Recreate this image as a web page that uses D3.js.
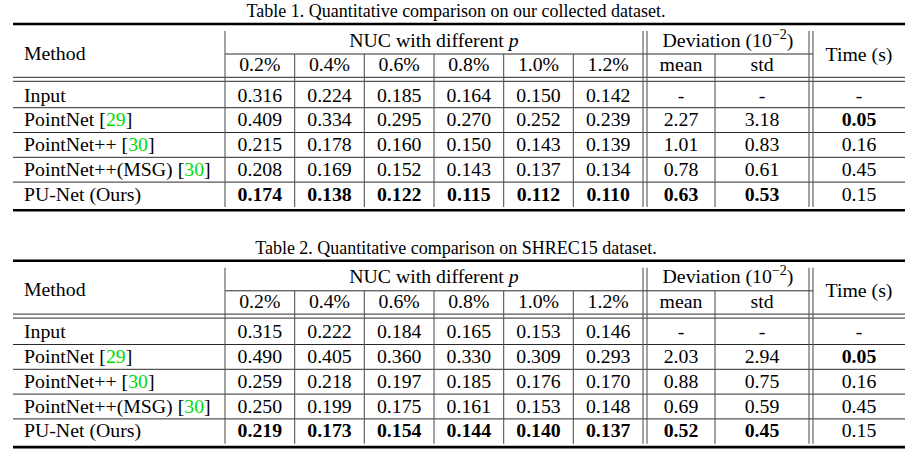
<!DOCTYPE html>
<html><head><meta charset="utf-8">
<script src="https://cdn.jsdelivr.net/npm/d3@7"></script>
<style>body{margin:0;background:#fff}svg{display:block}</style>
</head><body><svg id="c" width="916" height="455"></svg>
<script>
// ---------------- data ----------------
const captions = ["Table 1. Quantitative comparison on our collected dataset.",
                  "Table 2. Quantitative comparison on SHREC15 dataset."];
const methods = ["Input", "PointNet", "PointNet++", "PointNet++(MSG)", "PU-Net (Ours)"];
const citations = [null, "29", "30", "30", null];
const pLabels = ["0.2%", "0.4%", "0.6%", "0.8%", "1.0%", "1.2%"];
const devLabels = ["mean", "std"];
const nuc1 = [
  [0.316, 0.224, 0.185, 0.164, 0.150, 0.142],
  [0.409, 0.334, 0.295, 0.270, 0.252, 0.239],
  [0.215, 0.178, 0.160, 0.150, 0.143, 0.139],
  [0.208, 0.169, 0.152, 0.143, 0.137, 0.134],
  [0.174, 0.138, 0.122, 0.115, 0.112, 0.110]];
const mean1 = [null, 2.27, 1.01, 0.78, 0.63];
const std1  = [null, 3.18, 0.83, 0.61, 0.53];
const time1 = [null, 0.05, 0.16, 0.45, 0.15];
const nuc2 = [
  [0.315, 0.222, 0.184, 0.165, 0.153, 0.146],
  [0.490, 0.405, 0.360, 0.330, 0.309, 0.293],
  [0.259, 0.218, 0.197, 0.185, 0.176, 0.170],
  [0.250, 0.199, 0.175, 0.161, 0.153, 0.148],
  [0.219, 0.173, 0.154, 0.144, 0.140, 0.137]];
const mean2 = [null, 2.03, 0.88, 0.69, 0.52];
const std2  = [null, 2.94, 0.75, 0.59, 0.45];
const time2 = [null, 0.05, 0.16, 0.45, 0.15];

// ---------------- layout ----------------
const FONT = "'Liberation Serif','Times New Roman',Times,serif";
const BODY = 19.8, CAP = 18;
const X0 = 13, X1 = 905, XM = 225;
const xNuc = d3.scaleBand().domain(pLabels).range([225, 643]);
const devEdges = [647, 715, 809];
const xDev = d3.scaleOrdinal().domain(devLabels).range([(devEdges[0]+devEdges[1])/2, (devEdges[1]+devEdges[2])/2]);
const timeEdges = [813, X1];
const rowY = d3.scaleLinear().domain([0, 1]).range([0, 24.8]);
const tableOffsets = [0, 236.8];

const svg = d3.select("#c");

function fmt(v, d) { return v == null ? "-" : v.toFixed(d); }
function colMin(arr) { return d3.min(arr.filter(v => v != null)); }

function drawTable(k, nuc, mean, std, time) {
  const g = svg.append("g").attr("transform", `translate(0,${tableOffsets[k]})`);
  const txt = (x, y, s, opt = {}) => g.append("text").attr("x", x).attr("y", y)
      .attr("text-anchor", opt.anchor || "middle").style("font-family", FONT)
      .attr("font-size", opt.size || BODY).attr("font-weight", opt.bold ? "bold" : "normal")
      .attr("fill", "#000").text(s);
  const hline = (y, xa, xb, w, c) => g.append("line").attr("x1", xa).attr("x2", xb)
      .attr("y1", y).attr("y2", y).attr("stroke", c || "#2a2a2a").attr("stroke-width", w || 1);
  const vline = (x, ya, yb) => g.append("line").attr("x1", x).attr("x2", x)
      .attr("y1", ya).attr("y2", yb).attr("stroke", "#555").attr("stroke-width", 1.1);

  // caption
  txt(456, 17.3, captions[k], { size: CAP });

  // rules
  hline(24, X0, X1, 2.6, "#000");
  hline(54, XM, timeEdges[0], 1);
  hline(77.3, X0, X1, 1);
  hline(81.3, X0, X1, 1);
  for (let i = 0; i < methods.length - 1; i++) hline(107.7 + rowY(i), X0, X1, 1);
  hline(210.3, X0, X1, 2.6, "#000");

  // verticals
  const yTop = 31, ySub = 54, yBot = 207;
  [XM, 643, 647, 809, 813].forEach(x => vline(x, yTop, yBot));
  pLabels.slice(1).forEach(p => vline(xNuc(p), ySub, yBot));
  vline(devEdges[1], ySub, yBot);

  // header
  txt(24, 59.5, "Method", { anchor: "start" });
  const nh = txt(434, 46.7, "NUC with different ");
  nh.append("tspan").attr("font-style", "italic").text("p");
  pLabels.forEach(p => txt(xNuc(p) + xNuc.bandwidth() / 2, 71, p));
  const dh = txt((devEdges[0] + devEdges[2]) / 2, 46.7, "Deviation (10");
  dh.append("tspan").attr("font-size", 14).attr("dy", -8).text("\u22122");
  dh.append("tspan").attr("dy", 8).text(")");
  devLabels.forEach(d => txt(xDev(d), 71, d));
  txt((timeEdges[0] + timeEdges[1]) / 2, 60.5, "Time (s)");

  // body
  const nucMin = pLabels.map((p, j) => colMin(nuc.map(r => r[j])));
  const mMin = colMin(mean), sMin = colMin(std), tMin = colMin(time);
  methods.forEach((m, i) => {
    const y = 101.5 + rowY(i);
    const t = txt(24, y, m, { anchor: "start" });
    if (citations[i]) {
      t.append("tspan").text(" [");
      t.append("tspan").attr("fill", "#00dd00").text(citations[i]);
      t.append("tspan").text("]");
    }
    nuc[i].forEach((v, j) => txt(xNuc(pLabels[j]) + xNuc.bandwidth() / 2, y, fmt(v, 3), { bold: v === nucMin[j] }));
    txt(xDev("mean"), y, fmt(mean[i], 2), { bold: mean[i] != null && mean[i] === mMin });
    txt(xDev("std"), y, fmt(std[i], 2), { bold: std[i] != null && std[i] === sMin });
    txt((timeEdges[0] + timeEdges[1]) / 2, y, fmt(time[i], 2), { bold: time[i] != null && time[i] === tMin });
  });
}

drawTable(0, nuc1, mean1, std1, time1);
drawTable(1, nuc2, mean2, std2, time2);
</script></body></html>
